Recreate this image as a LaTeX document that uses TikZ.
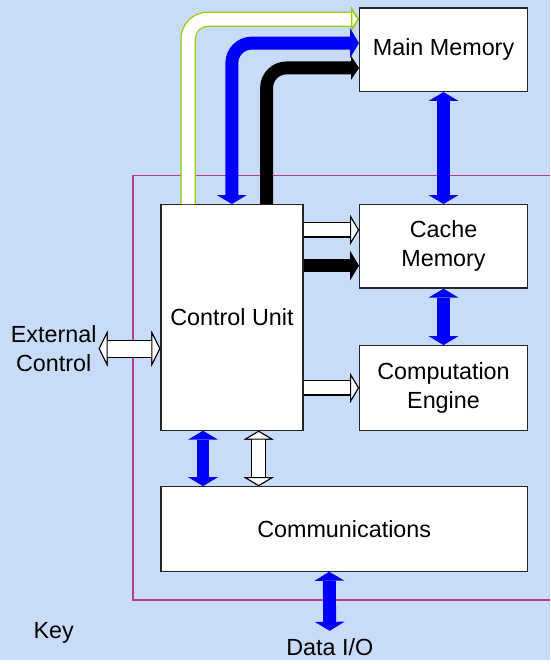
\documentclass[tikz,border=0pt]{standalone}
\usepackage{fontspec}
\setmainfont{Liberation Sans}
\usetikzlibrary{arrows.meta,calc}
\definecolor{paleblue}{RGB}{200,220,250}
\definecolor{framemaroon}{RGB}{185,60,130}
\definecolor{limegreen}{RGB}{153,204,0}

\tikzset{
  fullhead/.tip={Triangle[length=9pt, width=30pt, line width=0pt 0]},
  hollowhead/.tip={Triangle[length=9pt, width=30pt, fill=white, color=black, line width=1pt 0]},
  widehead/.tip={Triangle[length=9pt, width=36pt, fill=white, color=black, line width=1pt 0]},
  thinhead/.tip={Triangle[length=8pt, width=24pt, line width=0pt 0]},
  greenhead/.tip={Triangle[length=8pt, width=25pt, fill=white, color=limegreen, line width=1.4pt 0]}
}

\begin{document}
\begin{tikzpicture}[x=1pt, y=-1pt,
  every node/.style={font=\fontsize{23.5}{29}\selectfont},
  unit/.style={draw=black!85, fill=white, line width=1.2pt, align=center, inner sep=0pt},
  plaintext/.style={align=center, inner sep=2pt},
  bluebus/.style={draw=blue, line width=13pt},
  blackbus/.style={draw=black, line width=13pt},
  whitebus/.style={preaction={draw=#1, line width=15.5pt}, draw=white, line width=13pt},
  whitebus/.default=black]

% Background
\fill[paleblue] (0,0) rectangle (554,664);

% Chip boundary
\draw[framemaroon, line width=1.3pt] (554,177) -| (134,604) -- (554,604);

% Units
\node[unit, minimum width=169pt, minimum height=84pt] (mainmem) at (446.5,50) {Main Memory};
\node[unit, minimum width=169pt, minimum height=84pt] (cache) at (446.5,248) {Cache\\Memory};
\node[unit, minimum width=169pt, minimum height=85pt] (engine) at (446.5,390.5) {Computation\\Engine};
\node[unit, minimum width=143pt, minimum height=227pt] (ctrl) at (233.5,319.5) {Control Unit};
\node[unit, minimum width=369pt, minimum height=85pt] (comms) at (346.5,532.5) {Communications};

% Outside labels
\node[plaintext] (extctl) at (54,351) {External\\Control};
\node[plaintext] (key) at (54,637) {Key};
\node[plaintext, inner ysep=8pt, anchor=north] (dataio) at (332,635) {Data I/O};

% Control unit to main memory
\draw[whitebus=limegreen, -greenhead, rounded corners=20pt]
  ($(ctrl.north west)+(28,0)$) |- ($(mainmem.north west)+(0,12)$);
\draw[bluebus, fullhead-fullhead, rounded corners=20pt]
  ($(mainmem.north west)+(0,36)$) -| ($(ctrl.north west)+(72,0)$);
\draw[blackbus, -thinhead, rounded corners=20pt]
  ($(ctrl.north west)+(107,0)$) |- ($(mainmem.north west)+(0,61)$);

% Memory buses
\draw[bluebus, fullhead-fullhead] (mainmem.south) -- (cache.north);
\draw[bluebus, fullhead-fullhead] (cache.south) -- (engine.north);

% Control unit to cache and engine
\draw[whitebus, -hollowhead] ($(ctrl.north east)+(0,26)$) -- ($(cache.north west)+(0,26)$);
\draw[blackbus, -fullhead] ($(ctrl.north east)+(0,62)$) -- ($(cache.north west)+(0,62)$);
\draw[whitebus, -hollowhead] (ctrl.east |- engine.west) -- (engine.west);

% Control unit to communications
\draw[bluebus, fullhead-fullhead] ($(ctrl.south west)+(43,0)$) -- ($(comms.north west)+(43,0)$);
\draw[whitebus, hollowhead-hollowhead] ($(ctrl.south west)+(99,0)$) -- ($(comms.north west)+(99,0)$);

% External connections
\draw[preaction={draw=black, line width=18pt}, draw=white, line width=16pt, widehead-widehead]
  (extctl.east) -- (ctrl.west |- extctl.east);
\draw[bluebus, fullhead-fullhead] ($(comms.south west)+(170,0)$) -- (dataio.north);

\end{tikzpicture}
\end{document}
